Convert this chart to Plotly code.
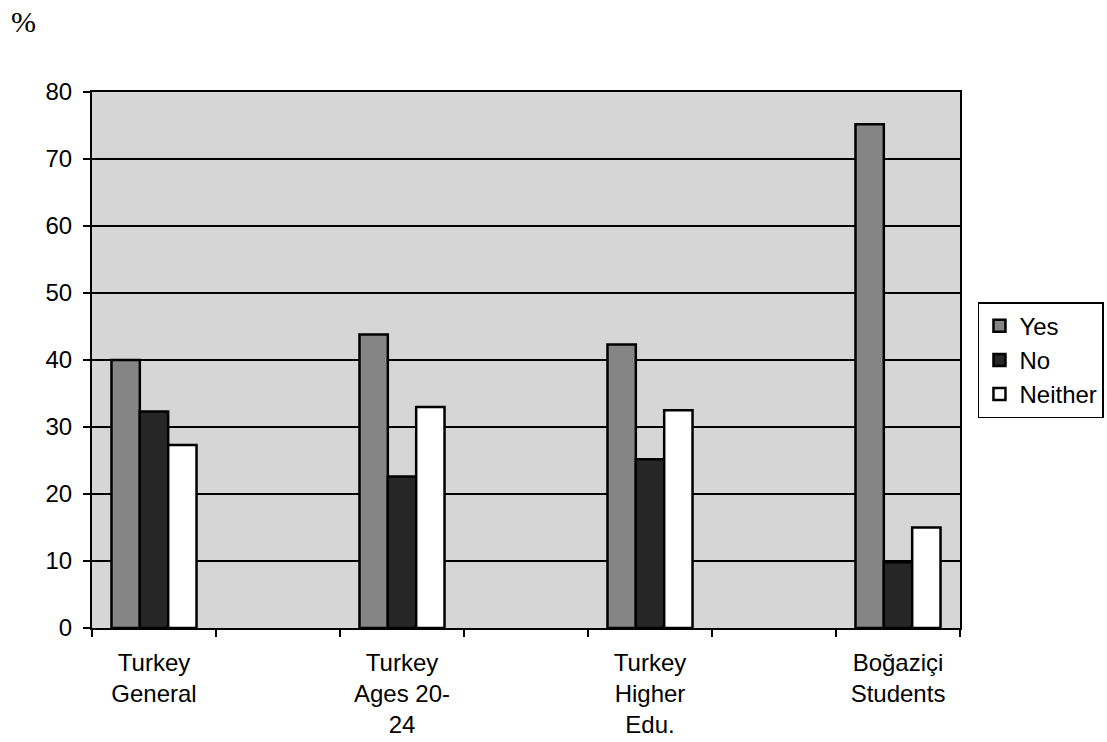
import plotly.graph_objects as go

categories = ["Turkey<br>General", "Turkey<br>Ages 20-<br>24", "Turkey<br>Higher<br>Edu.", "Boğaziçi<br>Students"]
cat_pos = [0, 2, 4, 6]
yes = [40.0, 43.8, 42.3, 75.2]
no = [32.3, 22.6, 25.2, 9.8]
neither = [27.3, 33.0, 32.5, 15.0]
y_ticks = [0, 10, 20, 30, 40, 50, 60, 70, 80]

font = dict(family="Liberation Sans, Arial, sans-serif", size=24, color="black")

fig = go.Figure()
for name, vals, col in [("Yes", yes, "#858585"), ("No", no, "#262626"), ("Neither", neither, "white")]:
    fig.add_trace(go.Bar(
        name=name, x=cat_pos, y=vals,
        marker=dict(color=col, line=dict(color="black", width=2.5)),
    ))

fig.update_layout(
    width=1107, height=742,
    margin=dict(l=92, r=147, t=92, b=114, autoexpand=False),
    paper_bgcolor="white",
    plot_bgcolor="#d6d6d6",
    barmode="group",
    bargap=0.657,
    bargroupgap=0,
    font=font,
    legend=dict(
        x=1.0207, y=0.608, xanchor="left", yanchor="top",
        bgcolor="white", bordercolor="black", borderwidth=1.5,
        font=font,
        itemwidth=30, tracegroupgap=0,
    ),
    showlegend=True,
)

fig.update_xaxes(
    range=[-0.5, 6.5], automargin=False,
    tickmode="array", tickvals=cat_pos, ticktext=categories,
    ticks="", showgrid=False, zeroline=False,
    showline=True, linecolor="black", linewidth=2, mirror=True,
    minor=dict(tickmode="array", tickvals=[-0.5, 0.5, 1.5, 2.5, 3.5, 4.5, 5.5, 6.5],
               ticks="outside", ticklen=7, tickwidth=2, tickcolor="black", showgrid=False),
    tickfont=font,
    ticklabelstandoff=12,
)
fig.update_yaxes(
    range=[0, 80], automargin=False,
    tickmode="array", tickvals=y_ticks,
    ticks="outside", ticklen=7, tickwidth=2, tickcolor="black",
    showgrid=True, gridcolor="black", gridwidth=2,
    zeroline=False,
    showline=True, linecolor="black", linewidth=2, mirror=True,
    tickfont=font,
    ticklabelstandoff=6,
)

fig.add_annotation(
    text="%", xref="paper", yref="paper",
    x=(9 - 92) / 868, y=(628 - 21) / 536, xanchor="left", yanchor="middle",
    showarrow=False, font=dict(family="Liberation Serif, Times New Roman, serif", size=30, color="black"),
)

fig.write_html("out.html")
